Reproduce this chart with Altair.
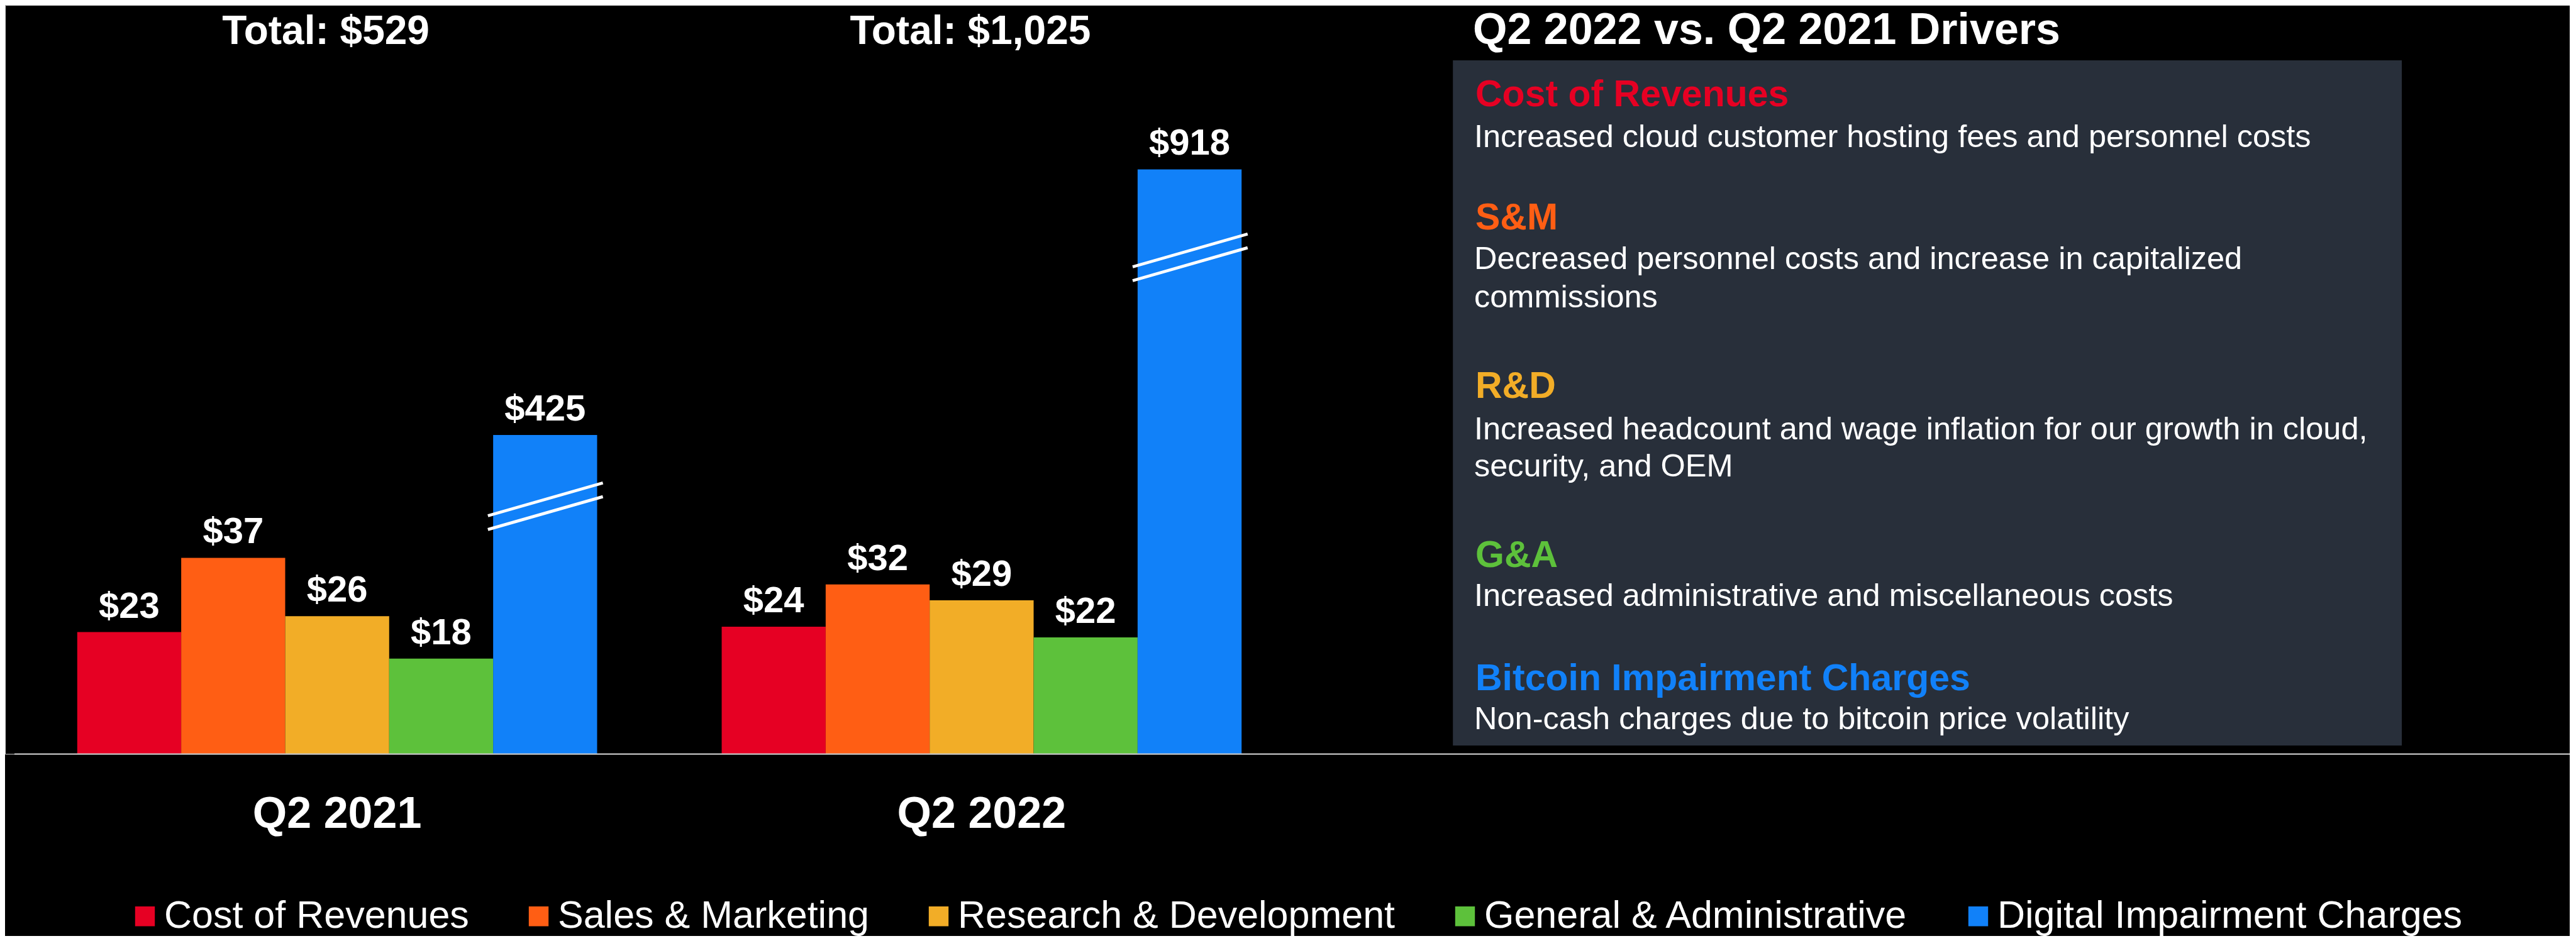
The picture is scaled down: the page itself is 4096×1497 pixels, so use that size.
import altair as alt
import pandas as pd

# ---------------- data ----------------
quarters = ["Q2 2021", "Q2 2022"]
categories = ["Cost of Revenues", "Sales & Marketing", "Research & Development",
              "General & Administrative", "Digital Impairment Charges"]
values_q2_2021 = [23, 37, 26, 18, 425]
values_q2_2022 = [24, 32, 29, 22, 918]
colors = ["#E60023", "#FF5E14", "#F2AD27", "#5DC13B", "#1181F9"]

panel_title = "Q2 2022 vs. Q2 2021 Drivers"
driver_heads = ["Cost of Revenues", "S&M", "R&D", "G&A", "Bitcoin Impairment Charges"]
driver_colors = ["#E60023", "#FF5E14", "#F2AD27", "#5DC13B", "#1181F9"]
driver_lines = [
    ["Increased cloud customer hosting fees and personnel costs"],
    ["Decreased personnel costs and increase in capitalized", "commissions"],
    ["Increased headcount and wage inflation for our growth in cloud,", "security, and OEM"],
    ["Increased administrative and miscellaneous costs"],
    ["Non-cash charges due to bitcoin price volatility"],
]

# ---------------- layout (pixels) ----------------
FONT = "Liberation Sans"
W = 4078
PLOT_H = 1191.4
TOTAL_H = 1481
X_RANGE = [114.8, 1966.2]
X_PAD_INNER = 0.1933
# broken value axis: piecewise scale
Y_DOMAIN = [0, 40, values_q2_2021[4], values_q2_2022[4]]
Y_RANGE = [1191.4, 854.2, 684.0, 261.4]

TITLE_Y = 61.5
PANEL_X = 2338
HEAD_Y = [161.4, 356.6, 625.0, 893.5, 1089.5]
BODY_Y = [[226.2], [420.0, 481.3], [690.7, 749.7], [956.3], [1152.4]]
BREAKS = [(767.8, 812.5, 950.6, 760.2), (767.8, 834.4, 950.6, 782.1),
          (1793.0, 416.5, 1975.8, 364.2), (1793.0, 438.5, 1975.8, 386.1)]

rows = []
for q, vals in zip(quarters, [values_q2_2021, values_q2_2022]):
    for c, v in zip(categories, vals):
        rows.append({"quarter": q, "category": c, "value": v, "label": f"${v:,}"})
df = pd.DataFrame(rows)

xscale = alt.Scale(domain=quarters, range=X_RANGE, paddingInner=X_PAD_INNER, paddingOuter=0)
yscale = alt.Scale(domain=Y_DOMAIN, range=Y_RANGE, nice=False, zero=False)
offscale = alt.Scale(domain=categories, paddingInner=0, paddingOuter=0)
cscale = alt.Scale(domain=categories, range=colors)

xaxis = alt.Axis(title=None, domain=False, ticks=False, tickSize=0, grid=False,
                 labelFontSize=70, labelFontWeight="bold", labelColor="white",
                 labelFont=FONT, labelPadding=117.1, labelBaseline="alphabetic",
                 labelAngle=0, labelLimit=2000)

x_enc = alt.X("quarter:N", scale=xscale, sort=quarters, axis=xaxis)
xo_enc = alt.XOffset("category:N", scale=offscale, sort=categories)
y_enc = alt.Y("value:Q", scale=yscale, axis=None)

base = alt.Chart(df)

panel = alt.Chart(pd.DataFrame({"a": [0]})).mark_rect(color="#282F3A").encode(
    x=alt.value(2302.2), x2=alt.value(3811.0), y=alt.value(88.1), y2=alt.value(1178.1))

bars = base.mark_bar(strokeWidth=0).encode(
    x=x_enc, xOffset=xo_enc, y=y_enc,
    color=alt.Color("category:N", scale=cscale, sort=categories,
                    legend=alt.Legend(orient="none", legendX=192, legendY=1419,
                                      direction="horizontal", title=None,
                                      symbolType="square", symbolSize=986,
                                      symbolStrokeWidth=0, symbolOpacity=1,
                                      labelFontSize=61, labelColor="white", labelFont=FONT,
                                      labelOffset=0, columnPadding=80, labelLimit=2000,
                                      padding=0, rowPadding=0)),
)

labels = base.mark_text(font=FONT, fontSize=58, fontWeight="bold", color="white",
                        baseline="alphabetic", dy=-23).encode(
    x=x_enc, xOffset=xo_enc, y=y_enc, text="label:N")

totals = base.transform_aggregate(
    total="sum(value)", groupby=["quarter"]
).transform_calculate(
    tlabel="'Total: $' + format(datum.total, ',')"
).mark_text(font=FONT, fontSize=64, fontWeight="bold", color="white",
            baseline="alphabetic", dx=-18).encode(
    x=x_enc, y=alt.value(TITLE_Y), text="tlabel:N")

baseline = alt.Chart(pd.DataFrame({"value": [0]})).mark_rule(
    color="#C8C8C8", strokeWidth=2).encode(
    x=alt.value(15), x2=alt.value(W), y=y_enc)

one = pd.DataFrame({"a": [0]})
layers = [panel, bars, labels, totals, baseline]
for (bx1, by1, bx2, by2) in BREAKS:
    layers.append(alt.Chart(one).mark_rule(color="white", strokeWidth=4.8).encode(
        x=alt.value(bx1), y=alt.value(by1), x2=alt.value(bx2), y2=alt.value(by2)))

layers.append(alt.Chart(one).mark_text(
    font=FONT, fontSize=70, fontWeight="bold", color="white",
    align="left", baseline="alphabetic").encode(
    x=alt.value(2334), y=alt.value(TITLE_Y), text=alt.value(panel_title)))

for head, col, hy, lines, bys in zip(driver_heads, driver_colors, HEAD_Y, driver_lines, BODY_Y):
    layers.append(alt.Chart(one).mark_text(
        font=FONT, fontSize=59, fontWeight="bold", color=col,
        align="left", baseline="alphabetic").encode(
        x=alt.value(PANEL_X), y=alt.value(hy), text=alt.value(head)))
    for line, ly in zip(lines, bys):
        layers.append(alt.Chart(one).mark_text(
            font=FONT, fontSize=50.5, color="white",
            align="left", baseline="alphabetic").encode(
            x=alt.value(PANEL_X - 2), y=alt.value(ly), text=alt.value(line)))

chart = alt.layer(*layers).properties(
    width=W, height=PLOT_H,
    autosize=alt.AutoSizeParams(type="none"),
    padding={"left": 0, "top": 0, "right": 0, "bottom": TOTAL_H - PLOT_H},
    background="#000000",
).configure_view(strokeWidth=0).configure(font=FONT)

chart.save("out.html", embed_options={"renderer": "svg", "actions": False})
